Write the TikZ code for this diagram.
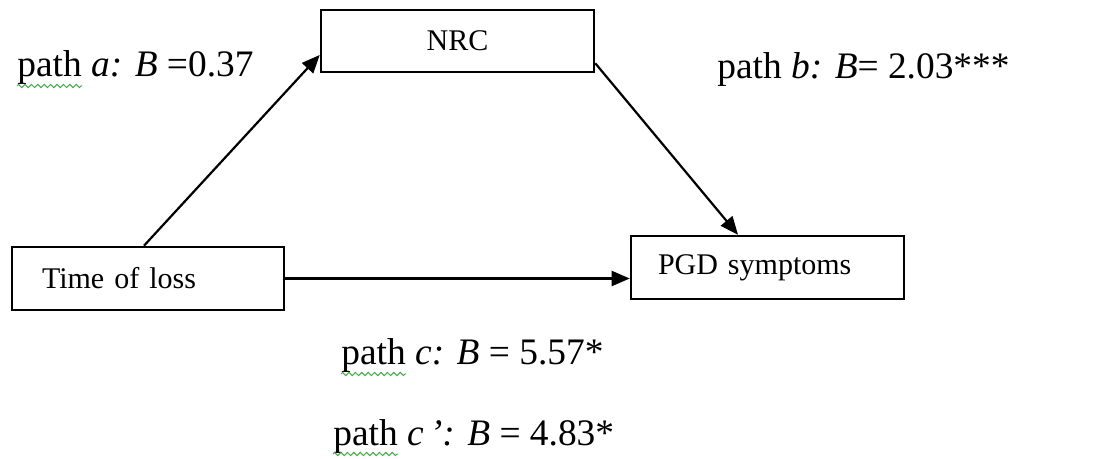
\documentclass[tikz,border=0pt]{standalone}
\usepackage{fontspec}
\setmainfont{Liberation Serif}
\usetikzlibrary{arrows.meta,decorations.pathmorphing,calc}
\definecolor{spellgreen}{RGB}{70,170,70}
\begin{document}
\begin{tikzpicture}[x=0.5pt,y=-0.5pt,
  box/.style={draw, line width=1.3pt, rectangle, minimum height=31.5pt,
    font=\fontsize{15}{18}\selectfont, inner sep=0pt},
  link/.style={line width=1.1pt, -{Triangle[length=9pt,width=7.5pt]}},
  lbl/.style={anchor=base west, inner sep=0pt, font=\fontsize{18.7}{22}\selectfont},
  squig/.style={spellgreen, line width=0.5pt, decorate,
    decoration={zigzag, segment length=3.2pt, amplitude=0.8pt}}]
\useasboundingbox (0,0) rectangle (1108,459);

% variables of the mediation model
\node[box, minimum width=136.5pt, minimum height=31pt] (nrc) at (457.5,41) {NRC};
\node[box, minimum width=136pt, text width=106pt, align=left, inner xsep=15pt]
  (time) at (148,278.5) {Time of loss};
\node[box, minimum width=136.5pt, text width=109.5pt, align=left, inner xsep=13.5pt]
  (pgd) at (767.5,267.5) {PGD symptoms};

% paths
\draw[link] ([xshift=-2pt]time.north) -- ([yshift=-7pt]nrc.west);
\draw[link] ([yshift=5pt]nrc.south east) -- ([xshift=-14.75pt]pgd.north);
\draw[link] (time.east) -- (time.east -| pgd.west);

% path coefficients
\node[lbl] (la) at (17,77) {path \textit{a:} \textit{B} =0.37};
\node[lbl] (lb) at (717,79) {path \textit{b:} \textit{B}= 2.03***};
\node[lbl] (lc) at (341,365) {path \textit{c:} \textit{B} = 5.57*};
\node[lbl] (lc2) at (333,445) {path \textit{c\,’:} \textit{B} = 4.83*};

% spelling marks under "path"
\draw[squig] ([yshift=-4.5pt]la.base west) -- ++(65,0);
\draw[squig] ([yshift=-4.5pt]lc.base west) -- ++(65,0);
\draw[squig] ([yshift=-4.5pt]lc2.base west) -- ++(65,0);
\end{tikzpicture}
\end{document}
